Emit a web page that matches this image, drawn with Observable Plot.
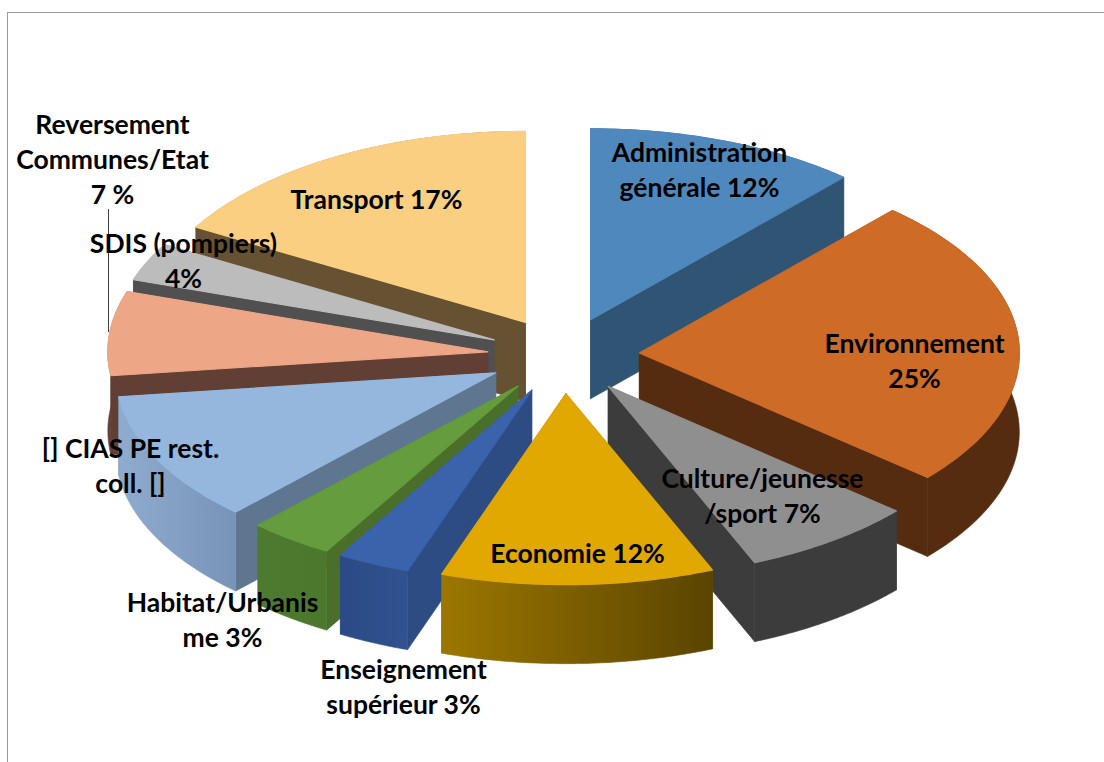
<!DOCTYPE html>
<html lang="fr">
<head>
<meta charset="utf-8">
<script src="https://cdn.jsdelivr.net/npm/d3@7"></script>
<script src="https://cdn.jsdelivr.net/npm/@observablehq/plot@0.6"></script>
<style>
html,body{margin:0;padding:0;background:#fff;overflow:hidden}
svg{display:block}
</style>
</head>
<body>
<div id="chart"></div>
<script>
// Chart values, clockwise from 12 o'clock (shares; labels round them)
const categories = ["Administration","Environnement","Culture","Economie","Enseignement","Habitat","CIAS","Reversement","SDIS","Transport"];
const shares = [11.6, 24.7, 7.4, 11.6, 3.1, 3.6, 11.0, 7.1, 3.2, 16.7];
const topColors = ["#4f88bc","#ce6b27","#8f8f8f","#e0a800","#3a63ab","#659c3d","#95b7de","#eda686","#bcbcbc","#fbcf82"];
const edgeColors = ["#305574","#562c11","#3c3c3c","#6b5200","#2c4c83","#4a6f2b","#5f7690","#613f35","#505050","#665233"];
const rimRight = ["#305574","#562c11","#3c3c3c","#5a4400","#30528f","#4c782e","#7794b8","#613f35","#505050","#665233"];
const rimLeft  = ["#305574","#562c11","#3c3c3c","#9c7700","#2b4a85","#4d7a2f","#8faccf","#613f35","#505050","#665233"];
const paintOrder = ["Transport","Administration","SDIS","Reversement","Environnement","CIAS","Habitat","Enseignement","Culture","Economie"];

const labelTexts = ["Administration\ngénérale 12%","Environnement\n25%","Culture/jeunesse\n/sport 7%","Economie 12%","Enseignement\nsupérieur 3%","Habitat/Urbanis\nme 3%","[] CIAS PE rest.\ncoll. []","Reversement\nCommunes/Etat\n7 %","SDIS (pompiers)\n4%","Transport 17%"];
const labelX = [699, 914, 762, 577, 403, 222, 130, 112, 183, 376];
const labelY = [168, 359, 494, 551, 685, 618, 464, 157, 259, 197];

// Projection of the tilted pie onto the page
const cx = 563, cy = 355, rx = 380, ry = 191, depth = 79, explode = 0.2;

const total = d3.sum(shares);
let acc = 0;
const slices = categories.map((name, i) => {
  const a0 = acc / total * 2 * Math.PI;
  acc += shares[i];
  const a1 = acc / total * 2 * Math.PI;
  const mid = (a0 + a1) / 2;
  return {name, i, a0, a1,
    ax: cx + explode * rx * Math.sin(mid),
    ay: cy - explode * ry * Math.cos(mid)};
});
const rimPoint = (s, a, dz = 0) => ({x: s.ax + rx * Math.sin(a), y: s.ay - ry * Math.cos(a) + dz});
const rim = (s, dz = 0) => d3.range(0, 61).map(k => rimPoint(s, s.a0 + (s.a1 - s.a0) * k / 60, dz));
const apex = (s, dz = 0) => ({x: s.ax, y: s.ay + dz});
const poly = (pts, fill, strokeWidth = 0.6) =>
  Plot.line([...pts, pts[0]], {x: "x", y: "y", fill, stroke: fill, strokeWidth, curve: "linear"});

const gradients = () => {
  const defs = d3.create("svg:defs");
  slices.forEach(s => {
    const g = defs.append("linearGradient").attr("id", `rim${s.i}`);
    g.append("stop").attr("offset", "0%").attr("stop-color", rimLeft[s.i]);
    g.append("stop").attr("offset", "100%").attr("stop-color", rimRight[s.i]);
  });
  return defs.node();
};

const pieces = paintOrder.flatMap(name => {
  const s = slices.find(d => d.name === name);
  const top0 = rimPoint(s, s.a0), top1 = rimPoint(s, s.a1);
  const bot0 = rimPoint(s, s.a0, depth), bot1 = rimPoint(s, s.a1, depth);
  const rimFill = rimLeft[s.i] === rimRight[s.i] ? rimLeft[s.i] : `url(#rim${s.i})`;
  return [
    poly([apex(s), top0, bot0, apex(s, depth)], edgeColors[s.i]),
    poly([apex(s), top1, bot1, apex(s, depth)], edgeColors[s.i]),
    poly([...rim(s), ...rim(s, depth).reverse()], rimFill),
    poly([apex(s), ...rim(s)], topColors[s.i], 1.2)
  ];
});

const labels = labelTexts.map((text, i) => ({text, x: labelX[i], y: labelY[i]}));

const chart = Plot.plot({
  width: 1104, height: 762, margin: 0,
  style: {background: "#fff"},
  x: {domain: [0, 1104], range: [0, 1104], axis: null},
  y: {domain: [0, 762], range: [0, 762], axis: null},
  marks: [
    gradients,
    Plot.ruleY([12], {x1: 7, x2: 1104, stroke: "#999", strokeWidth: 1}),
    Plot.ruleX([7], {y1: 12, y2: 762, stroke: "#999", strokeWidth: 1}),
    ...pieces,
    Plot.ruleX([108], {y1: 209, y2: 332, stroke: "#404040", strokeWidth: 1}),
    Plot.text(labels, {x: "x", y: "y", text: "text", fill: "#000", fontFamily: "Lato", fontWeight: 700, fontSize: 26.5, lineHeight: 1.32, textAnchor: "middle"})
  ]
});
document.getElementById("chart").append(chart);
</script>
</body>
</html>
